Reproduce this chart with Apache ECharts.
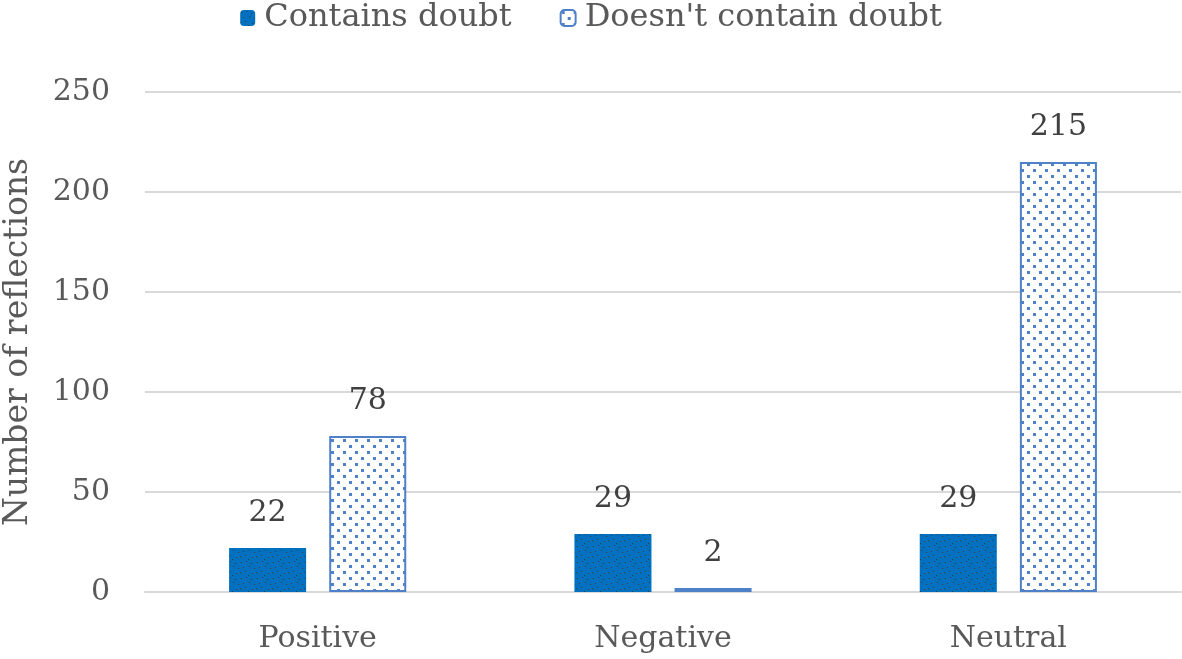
<!DOCTYPE html>
<html>
<head>
<meta charset="utf-8">
<script src="https://cdn.jsdelivr.net/npm/echarts@6/dist/echarts.min.js"></script>
<style>
html,body{margin:0;padding:0;background:#fff;}
#chart{width:1182px;height:659px;}
</style>
</head>
<body>
<div id="chart"></div>
<script>
var categories = ['Positive', 'Negative', 'Neutral'];
var seriesNames = ['Contains doubt', "Doesn't contain doubt"];
var containsDoubt = [22, 29, 29];
var noDoubt = [78, 2, 215];
var yTicks = [0, 50, 100, 150, 200, 250];

var FONT = '"DejaVu Serif", serif';

function makeDotPattern(bg, dot, size, step) {
  var c = document.createElement('canvas');
  c.width = step * 2; c.height = step * 2;
  var ctx = c.getContext('2d');
  if (bg) { ctx.fillStyle = bg; ctx.fillRect(0, 0, c.width, c.height); }
  ctx.fillStyle = dot;
  ctx.fillRect(1, 1, size, size);
  ctx.fillRect(1 + step, 1 + step, size, size);
  return c;
}
function makeSpeckle(bg, dot) {
  var c = document.createElement('canvas');
  c.width = 16; c.height = 16;
  var ctx = c.getContext('2d');
  ctx.fillStyle = bg; ctx.fillRect(0, 0, 16, 16);
  ctx.fillStyle = dot;
  var pts = [[1,2],[6,1],[11,3],[3,7],[9,6],[14,8],[0,12],[5,11],[12,13],[8,15]];
  pts.forEach(function(p){ ctx.fillRect(p[0], p[1], 1, 1); });
  return c;
}

var chart = echarts.init(document.getElementById('chart'), null, {renderer: 'canvas'});
chart.setOption({
  animation: false,
  backgroundColor: '#ffffff',
  legend: {
    top: -3,
    left: 'center',
    itemWidth: 15,
    itemHeight: 16,
    itemGap: 48,
    textStyle: {fontFamily: FONT, fontSize: 32, color: '#595959', padding: [0, 0, 0, 4]},
    data: seriesNames
  },
  grid: {left: 145, right: 1, top: 92, bottom: 67, containLabel: false, outerBoundsMode: 'none'},
  xAxis: {
    type: 'category',
    data: categories,
    axisLine: {show: true, lineStyle: {color: '#d9d9d9', width: 2}},
    axisTick: {show: false},
    axisLabel: {fontFamily: FONT, fontSize: 30, color: '#595959', margin: 32}
  },
  yAxis: {
    type: 'value',
    min: 0, max: 250, interval: 50,
    name: 'Number of reflections',
    nameLocation: 'middle',
    nameGap: 110,
    nameTextStyle: {fontFamily: FONT, fontSize: 33, color: '#595959'},
    axisLine: {show: false},
    axisTick: {show: false},
    splitLine: {lineStyle: {color: '#d9d9d9', width: 2}},
    axisLabel: {fontFamily: FONT, fontSize: 30, color: '#595959', margin: 35,
      formatter: function(v){ return yTicks.indexOf(v) >= 0 ? String(v) : ''; }}
  },
  series: [
    {
      name: seriesNames[0],
      type: 'bar',
      data: containsDoubt,
      barGap: '30%',
      barCategoryGap: '48.7%',
      itemStyle: {color: {image: makeSpeckle('#0070C0', '#3a3a3a'), repetition: 'repeat'}},
      label: {show: true, position: 'top', distance: 20, fontFamily: FONT, fontSize: 30, color: '#404040'}
    },
    {
      name: seriesNames[1],
      type: 'bar',
      data: noDoubt,
      itemStyle: {
        color: {image: makeDotPattern('#ffffff', '#4F81C9', 3, 6), repetition: 'repeat'},
        borderColor: '#4F81C9',
        borderWidth: 2
      },
      label: {show: true, position: 'top', distance: 20, fontFamily: FONT, fontSize: 30, color: '#404040'}
    }
  ]
});
</script>
</body>
</html>
